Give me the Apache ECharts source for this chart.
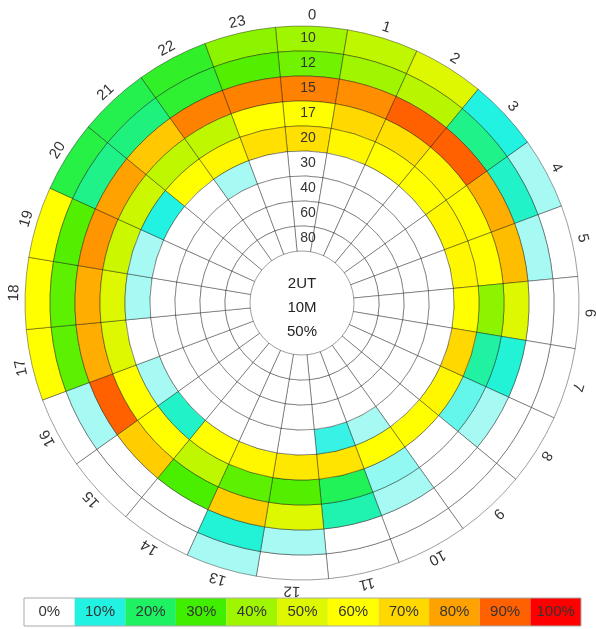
<!DOCTYPE html>
<html><head><meta charset="utf-8">
<script src="https://cdn.jsdelivr.net/npm/echarts@6/dist/echarts.min.js"></script>
<style>html,body{margin:0;padding:0;background:#fff}#c{width:596px;height:629px}</style>
</head><body><div id="c"></div>
<script>
// ---- data ----
const hours = ['0','1','2','3','4','5','6','7','8','9','10','11','12','13','14','15','16','17','18','19','20','21','22','23'];
const ringLabels = ['10','12','15','17','20','30','40','60','80']; // outer -> inner
const ring10 = [40,45,50,10,4,0,0,0,0,0,0,0,0,4,0,0,0,60,60,60,23,22,26,38];
const ring12 = [35,40,44,17,12,4,0,0,0,0,0,0,4,11,0,0,4,33,33,32,17,18,25,32];
const ring15 = [85,83,90,90,78,75,50,11,4,0,4,14,50,72,31,72,90,78,78,82,80,73,85,85];
const ring17 = [60,70,68,62,60,60,38,15,7,0,5,21,32,33,45,60,60,50,50,47,47,45,45,60];
const ring20 = [68,62,60,60,62,62,60,70,62,60,60,67,66,62,60,12,4,0,4,4,10,60,62,68];
const ring30 = [0,0,0,0,0,0,0,0,0,0,4,9,0,0,0,0,0,0,0,0,0,0,4,0];
const ring40 = [0,0,0,0,0,0,0,0,0,0,0,0,0,0,0,0,0,0,0,0,0,0,0,0];
const ring60 = [0,0,0,0,0,0,0,0,0,0,0,0,0,0,0,0,0,0,0,0,0,0,0,0];
const ring80 = [0,0,0,0,0,0,0,0,0,0,0,0,0,0,0,0,0,0,0,0,0,0,0,0];
const centerLines = ['2UT','10M','50%'];
const legendLabels = ['0%','10%','20%','30%','40%','50%','60%','70%','80%','90%','100%'];
const legendColors = ['#ffffff','#22f2e2','#1ef262','#40ee00','#a0f500','#ddf800','#ffff00','#ffd800','#ffa200','#ff6000','#ff0000'];

// ---- build ----
const rings = [ring10, ring12, ring15, ring17, ring20, ring30, ring40, ring60, ring80];
const radiusCats = ringLabels.slice().reverse(); // inner -> outer
const outerIdx = ringLabels.length - 1;
const cells = [];
rings.forEach((vals, i) => {
  const ri = outerIdx - i;
  vals.forEach((v, h) => cells.push([ri, h, v]));
});
const hourLabelData = hours.map((h, i) => [outerIdx, i]);

const CX = 302, CY = 303, R0 = 52, R1 = 277;
const FONT = 'Liberation Sans, Arial, sans-serif';

function renderCell(params, api) {
  const rv = api.value(0), av = api.value(1);
  const c = api.coord([rv, av]);
  const s = api.size([1, 1], [rv, av]);
  const cs = params.coordSys;
  return {
    type: 'sector',
    shape: { cx: cs.cx, cy: cs.cy, r0: c[2] - s[0] / 2, r: c[2] + s[0] / 2,
             startAngle: -c[3] - s[1] / 2, endAngle: -c[3] + s[1] / 2, clockwise: true },
    style: { fill: api.visual('color'), stroke: 'rgba(0,0,0,0.38)', lineWidth: 1 }
  };
}

function renderHourLabel(params, api) {
  const rv = api.value(0), av = api.value(1);
  const c = api.coord([rv, av]);
  const s = api.size([1, 1], [rv, av]);
  const cs = params.coordSys;
  const r = c[2] + s[0] / 2 + 11;
  const a = c[3];
  return {
    type: 'text',
    x: cs.cx + r * Math.cos(a),
    y: cs.cy - r * Math.sin(a),
    rotation: a - Math.PI / 2,
    style: { text: hours[params.dataIndex], align: 'center', verticalAlign: 'middle',
             fontSize: 15, fontFamily: FONT, fill: '#333' }
  };
}

const legendX0 = 24, legendX1 = 581, legendY = 598, legendH = 28;
const lw = (legendX1 - legendX0) / legendLabels.length;
const legendEls = [];
legendLabels.forEach((t, i) => {
  legendEls.push({ type: 'rect', shape: { x: legendX0 + i * lw, y: legendY, width: lw, height: legendH },
    style: { fill: legendColors[i] } });
  legendEls.push({ type: 'text', x: legendX0 + (i + 0.5) * lw, y: legendY + legendH / 2,
    style: { text: t, align: 'center', verticalAlign: 'middle', fontSize: 15, fontFamily: FONT, fill: '#333' } });
});
legendEls.push({ type: 'rect', shape: { x: legendX0, y: legendY, width: legendX1 - legendX0, height: legendH },
  style: { fill: 'none', stroke: '#aaa', lineWidth: 1 } });

const chart = echarts.init(document.getElementById('c'), null, { renderer: 'canvas' });
chart.setOption({
  animation: false,
  backgroundColor: '#fff',
  polar: [
    { center: [CX, CY], radius: [R0, R1] },
    { center: [CX, CY], radius: [R0, R1] }
  ],
  angleAxis: [
    { polarIndex: 0, type: 'category', data: hours, startAngle: 95.5, clockwise: true, boundaryGap: true,
      axisLine: { show: false }, axisTick: { show: false }, splitLine: { show: false },
      axisLabel: { show: false } },
    { polarIndex: 1, type: 'category', data: hours, startAngle: 90, show: false }
  ],
  radiusAxis: [
    { polarIndex: 0, type: 'category', data: radiusCats, show: false },
    { polarIndex: 1, type: 'category', data: radiusCats, z: 10,
      axisLine: { show: false }, axisTick: { show: false }, splitLine: { show: false },
      axisLabel: { interval: 0, margin: -6, align: 'center', fontSize: 14, fontFamily: FONT, color: '#333' } }
  ],
  visualMap: { type: 'continuous', show: false, min: 0, max: 100, dimension: 2, seriesIndex: 0,
    inRange: { color: legendColors } },
  series: [
    { type: 'custom', coordinateSystem: 'polar', polarIndex: 0, data: cells,
      encode: { radius: 0, angle: 1 }, renderItem: renderCell },
    { type: 'custom', coordinateSystem: 'polar', polarIndex: 0, data: hourLabelData, clip: false,
      encode: { radius: 0, angle: 1 }, renderItem: renderHourLabel }
  ],
  graphic: [
    { type: 'text', x: CX, y: CY + 5, z: 100,
      style: { text: centerLines.join('\n'), align: 'center', verticalAlign: 'middle', lineHeight: 24,
               fontSize: 15, fontFamily: FONT, fill: '#222' } },
    { type: 'group', children: legendEls }
  ]
});
</script></body></html>
